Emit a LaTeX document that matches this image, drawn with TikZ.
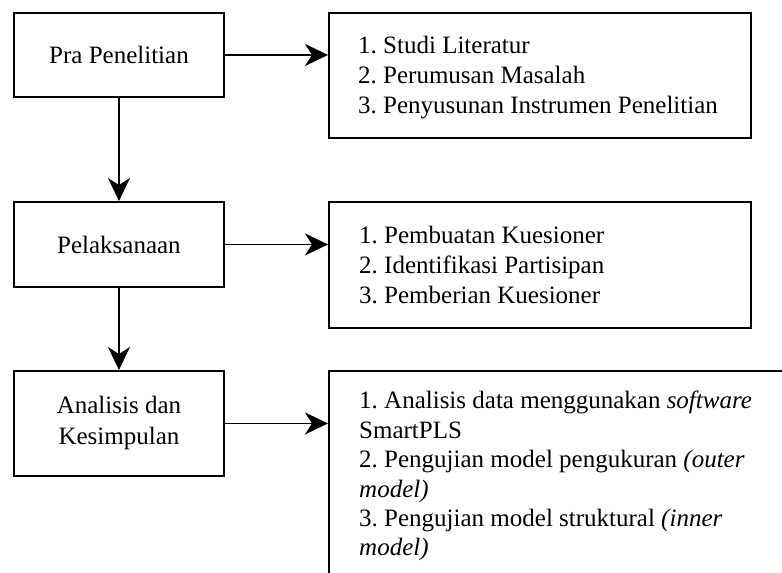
\documentclass[tikz,border=0pt]{standalone}
\usepackage{fontspec}
\setmainfont{Liberation Serif}
\usetikzlibrary{arrows.meta}
\frenchspacing
\begin{document}
\begin{tikzpicture}[x=1pt,y=-1pt,
  stage/.style={draw, line width=1.9pt, minimum width=210pt, anchor=north west, inner sep=0pt,
    align=center, font=\fontsize{25}{31}\selectfont},
  listbox/.style={draw, line width=1.9pt, anchor=north west, inner sep=0pt},
  listtxt/.style={anchor=north west, inner sep=0pt, align=left, font=\fontsize{25}{30}\selectfont},
  arr/.style={line width=1.9pt, -{Stealth[length=23pt,width=22pt,inset=7pt]}}
]
\useasboundingbox (0,0) rectangle (782,573);
\clip (0,0) rectangle (782,573);
\fill[white] (0,0) rectangle (782,573);

% left stages
\node[stage, minimum height=84pt] (b1) at (13,12) {Pra Penelitian};
\node[stage, minimum height=85pt] (b2) at (13,201) {Pelaksanaan};
\node[stage, minimum height=105pt] (b3) at (13,370) {Analisis dan\\Kesimpulan};

% right boxes
\node[listbox, minimum width=422pt, minimum height=125pt] (r1) at (328,12) {};
\node[listbox, minimum width=422pt, minimum height=126pt] (r2) at (328,201) {};
\node[listbox, minimum width=480pt, minimum height=240pt] (r3) at (328,370) {};

\node[listtxt] (t1) at (358,36) {1. Studi Literatur\\2. Perumusan Masalah\\3. Penyusunan Instrumen Penelitian};
\node[listtxt] (t2) at (359,226) {1. Pembuatan Kuesioner\\2. Identifikasi Partisipan\\3. Pemberian Kuesioner};
\node[listtxt, font=\fontsize{25}{29.4}\selectfont] (t3) at (359,391) {1. Analisis data menggunakan \textit{software}\\SmartPLS\\2. Pengujian model pengukuran \textit{(outer}\\\textit{model)}\\3. Pengujian model struktural \textit{(inner}\\\textit{model)}};

% connectors
\draw[arr] (b1.east) -- (b1.east -| r1.west);
\draw[arr] (b2.east) -- (b2.east -| r2.west);
\draw[arr] (b3.east) -- (b3.east -| r3.west);
\draw[arr] (b1.south) -- (b2.north);
\draw[arr] (b2.south) -- (b3.north);
\end{tikzpicture}
\end{document}
